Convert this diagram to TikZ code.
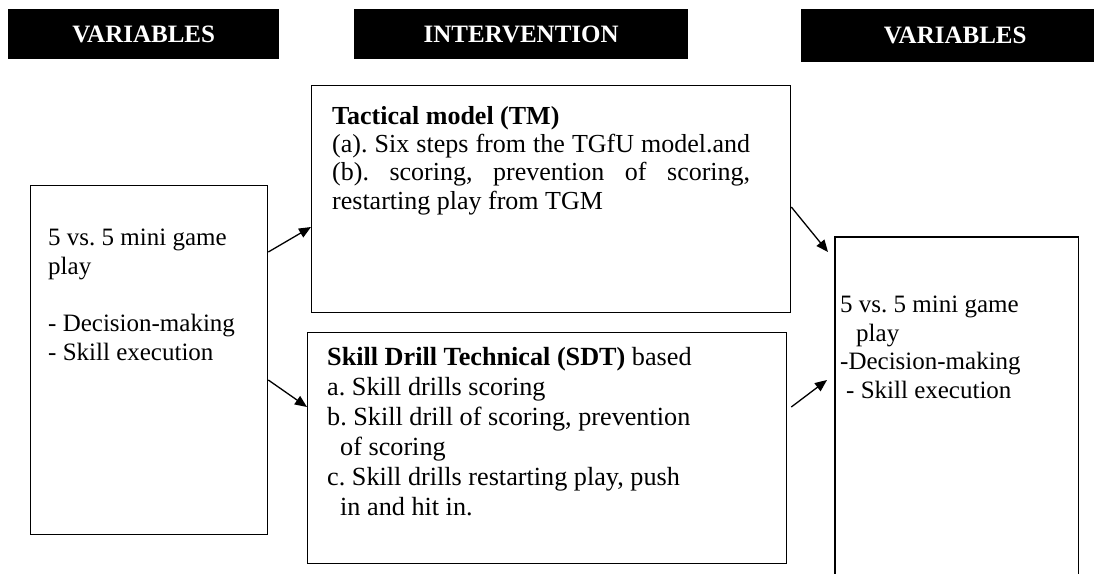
\documentclass[tikz,border=0pt]{standalone}
\usepackage{fontspec}
\setmainfont{Liberation Serif}
\usetikzlibrary{arrows.meta}
\frenchspacing
\begin{document}
\begin{tikzpicture}[x=1pt,y=-1pt,
  box/.style={draw, line width=1.3pt, inner sep=0pt, anchor=north west},
  hdr/.style={fill=black, text=white, inner sep=0pt, anchor=north west,
    font=\fontsize{25}{28}\selectfont\bfseries},
  txt/.style={anchor=base west, align=left, inner sep=0pt,
    font=\fontsize{25}{28.6}\selectfont},
  arr/.style={-{Triangle[length=12pt,width=10pt]}, line width=1.3pt}]
\useasboundingbox (0,0) rectangle (1094,573);
% headers
\node[hdr, minimum width=271pt, minimum height=50pt] (h1) at (8,9) {VARIABLES};
\node[hdr, minimum width=334pt, minimum height=50pt] (h2) at (354,9) {INTERVENTION};
\node[hdr, minimum width=293pt, minimum height=53pt] (h3) at (801,9) {\hspace*{15pt}VARIABLES};
% boxes
\node[box, minimum width=237pt, minimum height=349pt] (lv) at (30,185) {};
\node[box, minimum width=479pt, minimum height=227pt] (tm) at (311,85) {};
\node[box, minimum width=479pt, minimum height=231pt] (sdt) at (307,332) {};
\node[box, draw=none, minimum width=242pt, minimum height=336pt] (rv) at (835,237) {};
\draw[line width=1.3pt] (rv.south west) |- (rv.north east) -- (rv.south east);
% texts (base anchor = baseline of last line)
\node[txt] (lvt) at (48,360) {5 vs. 5 mini game\\play\\[28.6pt]- Decision-making\\- Skill execution};
\node[txt, font=\fontsize{26}{28.2}\selectfont] (tmt) at (332,209) {\textbf{Tactical model (TM)}\\\makebox[418pt][s]{(a). Six steps from the TGfU model.and}\\\makebox[418pt][s]{(b). scoring, prevention of scoring,}\\restarting play from TGM};
\node[txt, font=\fontsize{26.2}{30}\selectfont] (sdtt) at (327,515) {\textbf{Skill Drill Technical (SDT)} based\\a. Skill drills scoring\\b. Skill drill of scoring, prevention\\\hspace*{13pt}of scoring\\c. Skill drills restarting play, push\\\hspace*{13pt}in and hit in.};
\node[txt, font=\fontsize{25}{28.4}\selectfont] (rvt) at (840,398) {5 vs. 5 mini game\\\hspace*{16pt}play\\-Decision-making\\\hspace*{6pt}- Skill execution};
% arrows
\draw[arr] ([yshift=-67pt]lv.north east) -- ([yshift=-142pt]tm.north west);
\draw[arr] ([yshift=-195pt]lv.north east) -- ([yshift=-75pt]sdt.north west);
\draw[arr] ([yshift=-122pt]tm.north east) -- ([xshift=-7pt,yshift=-15pt]rv.north west);
\draw[arr] ([xshift=4pt,yshift=-75pt]sdt.north east) -- ([xshift=-8pt,yshift=-143pt]rv.north west);
\end{tikzpicture}
\end{document}
